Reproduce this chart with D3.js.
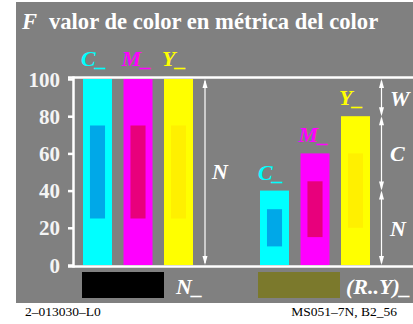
<!DOCTYPE html>
<html><head><meta charset="utf-8">
<script src="https://cdn.jsdelivr.net/npm/d3@7/dist/d3.min.js"></script>
<style>body{margin:0;background:#fff}svg{display:block}</style>
</head><body>
<svg id="c" width="413" height="324"></svg>
<script>
const categories = ["C_", "M_", "Y_"];
const groups = ["N_", "(R..Y)_"];
const leftValues = [100, 100, 100];
const rightValues = [40, 60, 80];
const leftInner = [[25, 75], [25, 75], [25, 75]];
const rightInner = [[10, 30], [15, 45], [20, 60]];
const tickValues = [0, 20, 40, 60, 80, 100];
const rightSegments = [[100, 80, "W"], [80, 40, "C"], [40, 0, "N"]];

const barColors = ["#00ffff", "#ff00ff", "#ffff00"];
const innerColors = ["#00a8e8", "#e8007c", "#fff000"];
const swatchColors = ["#000000", "#7b792c"];
const serif = "'Liberation Serif','Times New Roman',serif";

const svg = d3.select("#c");
svg.append("rect").attr("x", 16).attr("y", 2).attr("width", 397).attr("height", 301).attr("fill", "#808080");

const y = d3.scaleLinear().domain([0, 100]).range([265, 79]);
const xL = d3.scaleBand().domain(categories).range([83, 193]).paddingInner(0.284);
const xR = d3.scaleBand().domain(categories).range([260, 370]).paddingInner(0.284);
const xG = d3.scaleOrdinal().domain(groups).range([82, 258]);

// title
const t = svg.append("text").attr("x", 22).attr("y", 29).attr("fill", "#fff")
  .attr("font-family", serif).attr("font-size", 22.6).attr("font-weight", "bold");
t.append("tspan").attr("font-style", "italic").text("F");
t.append("tspan").attr("x", 49).text("valor de color en métrica del color");

// axis frame
svg.append("line").attr("x1", 68).attr("x2", 413).attr("y1", y(100) - 1.5).attr("y2", y(100) - 1.5)
  .attr("stroke", "#fff").attr("stroke-width", 2.5);
svg.append("line").attr("x1", 68).attr("x2", 413).attr("y1", y(0) + 1.5).attr("y2", y(0) + 1.5)
  .attr("stroke", "#fff").attr("stroke-width", 2.5);
svg.append("line").attr("x1", 73.5).attr("x2", 73.5).attr("y1", y(100) - 2.5).attr("y2", y(0) + 2.5)
  .attr("stroke", "#fff").attr("stroke-width", 2.5);

const axis = d3.axisLeft(y).tickValues(tickValues).tickSize(5).tickPadding(8).tickFormat(d3.format("d"));
const ag = svg.append("g").attr("transform", "translate(73,0)").call(axis);
ag.select(".domain").remove();
ag.selectAll(".tick line").attr("stroke", "#fff").attr("stroke-width", 2.5);
ag.selectAll(".tick text").attr("fill", "#f4f4f4").attr("font-family", serif)
  .attr("font-size", 21).attr("font-weight", "bold").attr("dy", "0.34em");

function drawGroup(xs, vals, inner, labelMode) {
  const g = svg.append("g");
  categories.forEach((c, i) => {
    const bx = xs(c), bw = xs.bandwidth();
    g.append("rect").attr("x", bx).attr("y", y(vals[i])).attr("width", bw)
      .attr("height", y(0) - y(vals[i])).attr("fill", barColors[i]);
    g.append("rect").attr("x", bx + bw * 0.24).attr("y", y(inner[i][1])).attr("width", bw * 0.52)
      .attr("height", y(inner[i][0]) - y(inner[i][1])).attr("fill", innerColors[i]);
    const ly = labelMode === "top" ? 66 : y(vals[i]) - 11;
    g.append("text").attr("x", bx - 2).attr("y", ly).attr("fill", barColors[i])
      .attr("font-family", serif).attr("font-size", 22).attr("font-weight", "bold")
      .attr("font-style", "italic").text(c);
  });
}
drawGroup(xL, leftValues, leftInner, "top");
drawGroup(xR, rightValues, rightInner, "above");

// arrows
function arrow(x, v1, v2) {
  const y1 = y(v1), y2 = y(v2);
  svg.append("line").attr("x1", x).attr("x2", x).attr("y1", y1 + 2).attr("y2", y2 - 2)
    .attr("stroke", "#fff").attr("stroke-width", 1.2);
  svg.append("path").attr("d", `M${x},${y1} L${x - 2.5},${y1 + 9} L${x + 2.5},${y1 + 9} Z`).attr("fill", "#fff");
  svg.append("path").attr("d", `M${x},${y2} L${x - 2.5},${y2 - 9} L${x + 2.5},${y2 - 9} Z`).attr("fill", "#fff");
}
arrow(205, 100, 0);
svg.append("text").attr("x", 212).attr("y", y(50) + 7).attr("fill", "#fff").attr("font-family", serif)
  .attr("font-size", 22).attr("font-style", "italic").attr("font-weight", "bold").text("N");

rightSegments.forEach(s => {
  arrow(381.5, s[0], s[1]);
  svg.append("text").attr("x", 390).attr("y", y((s[0] + s[1]) / 2) + 8).attr("fill", "#fff")
    .attr("font-family", serif).attr("font-size", 22).attr("font-style", "italic").attr("font-weight", "bold")
    .text(s[2]);
});

// swatches
groups.forEach((gname, i) => {
  svg.append("rect").attr("x", xG(gname)).attr("y", 272).attr("width", 82).attr("height", 26)
    .attr("fill", swatchColors[i]);
  svg.append("text").attr("x", xG(gname) + 94 - (i === 0 ? 0 : 6)).attr("y", 294).attr("fill", "#fff")
    .attr("font-family", serif).attr("font-size", 22).attr("font-style", "italic").attr("font-weight", "bold")
    .text(gname);
});

// footer
svg.append("text").attr("x", 25).attr("y", 316).attr("font-family", serif).attr("font-size", 13.5)
  .attr("fill", "#000").text("2–013030–L0");
svg.append("text").attr("x", 397).attr("y", 316).attr("text-anchor", "end").attr("font-family", serif)
  .attr("font-size", 13.5).attr("fill", "#000").text("MS051–7N, B2_56");
</script>
</body></html>
